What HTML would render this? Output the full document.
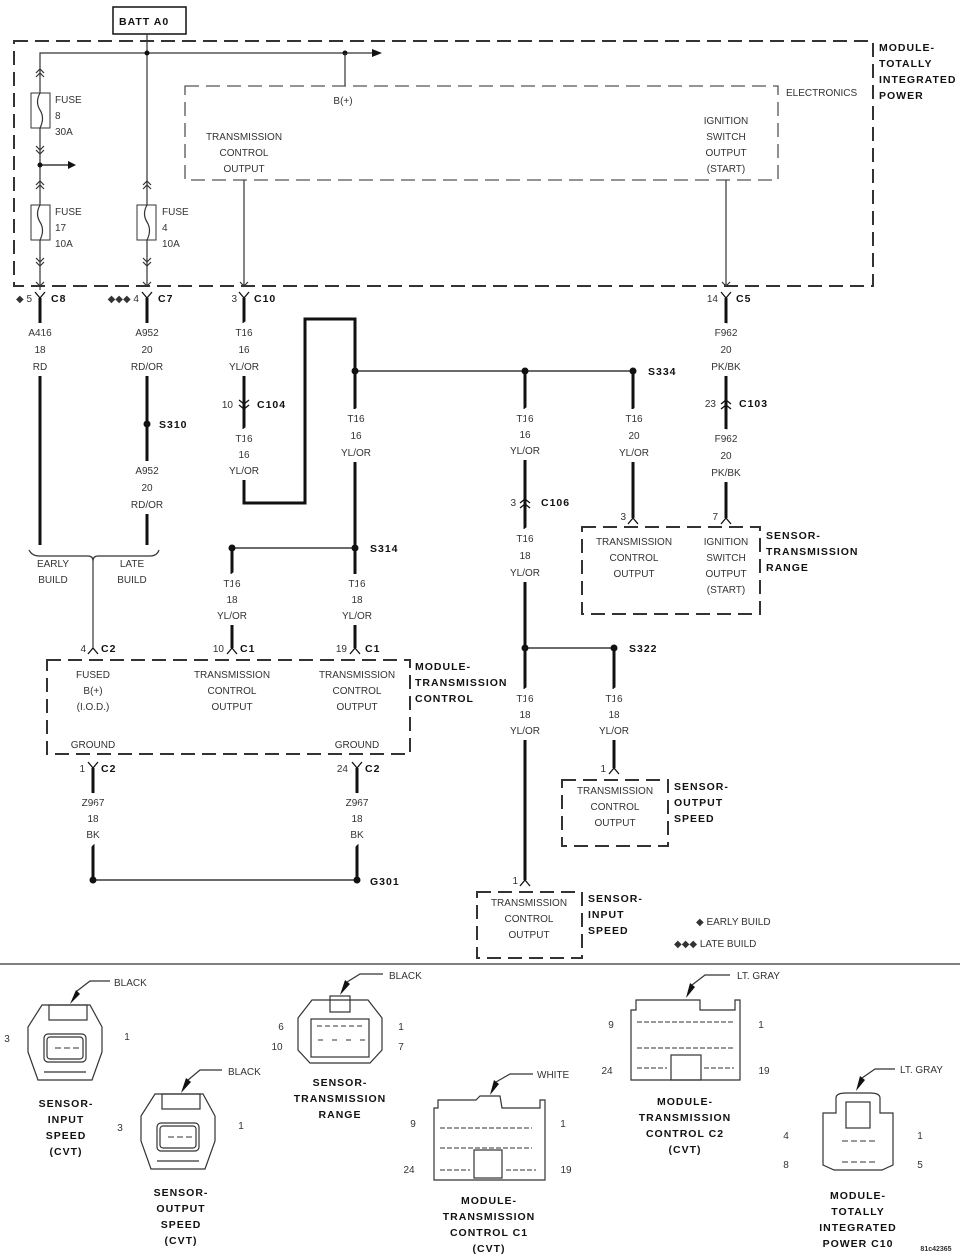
<!DOCTYPE html>
<html><head><meta charset="utf-8"><style>
html,body{margin:0;padding:0;background:#fff}
svg{display:block}
.t{font-family:"Liberation Sans",sans-serif;font-size:10px;fill:#333;text-anchor:middle}
.w{paint-order:stroke;stroke:#fff;stroke-width:12px;stroke-linejoin:miter}
.l{text-anchor:start}
.r{text-anchor:end}
.b{font-family:"Liberation Sans",sans-serif;font-size:10.5px;font-weight:bold;fill:#111;letter-spacing:1px}
.bc{text-anchor:middle}
.d{fill:none;stroke:#333;stroke-width:2;stroke-dasharray:14,7}
.dt{fill:none;stroke:#555;stroke-width:1.3;stroke-dasharray:14,7}
.tk{stroke:#111;stroke-width:3;fill:none}
.tn{stroke:#333;stroke-width:1.2;fill:none}
.c{stroke:#111;stroke-width:1.3;fill:none}
</style></head><body>
<svg width="960" height="1257" viewBox="0 0 960 1257" xmlns="http://www.w3.org/2000/svg">
<rect x="113" y="7" width="73" height="27" fill="#fff" stroke="#111" stroke-width="1.5"/>
<text class="b" x="119" y="25">BATT A0</text>
<rect class="d" x="14" y="41" width="859" height="245"/>
<text class="b" x="879" y="51">MODULE-</text>
<text class="b" x="879" y="67">TOTALLY</text>
<text class="b" x="879" y="83">INTEGRATED</text>
<text class="b" x="879" y="99">POWER</text>
<line class="tn" x1="147" y1="34" x2="147" y2="286"/>
<polyline class="tn" points="40,290 40,53 372,53"/>
<path d="M372,49 L382,53 L372,57Z" fill="#111"/>
<circle cx="147" cy="53" r="2.5" fill="#111"/><circle cx="345" cy="53" r="2.5" fill="#111"/>
<line class="tn" x1="345" y1="53" x2="345" y2="86"/>
<rect x="31" y="93" width="19" height="35" fill="#fff" stroke="#333"/>
<path d="M40,93 q-5,9 0,17 q5,8 0,18" class="tn"/>
<text class="t l" x="55" y="103">FUSE</text><text class="t l" x="55" y="119">8</text><text class="t l" x="55" y="135">30A</text>
<rect x="31" y="205" width="19" height="35" fill="#fff" stroke="#333"/>
<path d="M40,205 q-5,9 0,17 q5,8 0,18" class="tn"/>
<text class="t l" x="55" y="215">FUSE</text><text class="t l" x="55" y="231">17</text><text class="t l" x="55" y="247">10A</text>
<rect x="137" y="205" width="19" height="35" fill="#fff" stroke="#333"/>
<path d="M147,205 q-5,9 0,17 q5,8 0,18" class="tn"/>
<text class="t l" x="162" y="215">FUSE</text><text class="t l" x="162" y="231">4</text><text class="t l" x="162" y="247">10A</text>
<circle cx="40" cy="165" r="2.5" fill="#111"/>
<line class="c" x1="40" y1="165" x2="68" y2="165"/><path d="M68,161 L76,165 L68,169Z" fill="#111"/>
<g class="tn">
<path d="M36,73 l4,-4 l4,4 M36,77 l4,-4 l4,4"/>
<path d="M36,146 l4,4 l4,-4 M36,150 l4,4 l4,-4"/>
<path d="M36,185 l4,-4 l4,4 M36,189 l4,-4 l4,4"/>
<path d="M36,258 l4,4 l4,-4 M36,262 l4,4 l4,-4"/>
<path d="M143,185 l4,-4 l4,4 M143,189 l4,-4 l4,4"/>
<path d="M143,258 l4,4 l4,-4 M143,262 l4,4 l4,-4"/>
<path d="M36,282 l4,4 l4,-4 M143,282 l4,4 l4,-4 M240,282 l4,4 l4,-4 M722,282 l4,4 l4,-4"/>
</g>
<rect class="dt" x="185" y="86" width="593" height="94"/>
<text class="t l" x="786" y="96">ELECTRONICS</text>
<text class="t" x="343" y="104">B(+)</text>
<text class="t" x="244" y="140">TRANSMISSION</text><text class="t" x="244" y="156">CONTROL</text><text class="t" x="244" y="172">OUTPUT</text>
<text class="t" x="726" y="124">IGNITION</text><text class="t" x="726" y="140">SWITCH</text><text class="t" x="726" y="156">OUTPUT</text><text class="t" x="726" y="172">(START)</text>
<line class="tn" x1="244" y1="180" x2="244" y2="286"/>
<line class="tn" x1="726" y1="180" x2="726" y2="286"/>

<g class="tk">
<line x1="40" y1="298" x2="40" y2="545"/>
<line x1="147" y1="298" x2="147" y2="545"/>
<polyline points="244,298 244,503 305,503 305,319 355,319 355,648"/>
<line x1="232" y1="548" x2="232" y2="648"/>
<line x1="525" y1="371" x2="525" y2="880"/>
<line x1="633" y1="371" x2="633" y2="518"/>
<line x1="726" y1="298" x2="726" y2="518"/>
<line x1="614" y1="648" x2="614" y2="768"/>
<line x1="93" y1="768" x2="93" y2="880"/>
<line x1="357" y1="768" x2="357" y2="880"/>
</g>
<line class="c" x1="355" y1="371" x2="633" y2="371" stroke-width="1.6"/>
<line class="c" x1="232" y1="548" x2="355" y2="548" stroke-width="1.6"/>
<line class="c" x1="525" y1="648" x2="614" y2="648" stroke-width="1.6"/>
<line class="c" x1="93" y1="880" x2="357" y2="880" stroke-width="1.6"/>
<g fill="#111">
<circle cx="355" cy="371" r="3.5"/><circle cx="525" cy="371" r="3.5"/><circle cx="633" cy="371" r="3.5"/>
<circle cx="147" cy="424" r="3.5"/>
<circle cx="232" cy="548" r="3.5"/><circle cx="355" cy="548" r="3.5"/>
<circle cx="525" cy="648" r="3.5"/><circle cx="614" cy="648" r="3.5"/>
<circle cx="93" cy="880" r="3.5"/><circle cx="357" cy="880" r="3.5"/>
</g>
<g class="c" stroke-width="1.6">
<path d="M35,292 l5,6 l5,-6 M142,292 l5,6 l5,-6 M239,292 l5,6 l5,-6 M721,292 l5,6 l5,-6"/>
<path d="M239,400 l5,4 l5,-4 M239,405 l5,4 l5,-4"/>
<path d="M721,404 l5,-4 l5,4 M721,409 l5,-4 l5,4"/>
<path d="M520,503 l5,-4 l5,4 M520,508 l5,-4 l5,4"/>
<path d="M628,524 l5,-6 l5,6 M721,524 l5,-6 l5,6"/>
<path d="M88,654 l5,-6 l5,6 M227,654 l5,-6 l5,6 M350,654 l5,-6 l5,6"/>
<path d="M88,762 l5,6 l5,-6 M352,762 l5,6 l5,-6"/>
<path d="M609,774 l5,-6 l5,6 M520,886 l5,-6 l5,6"/>
</g>
<text class="t r" x="32" y="302">◆ 5</text><text class="b" x="51" y="302">C8</text>
<text class="t r" x="139" y="302">◆◆◆ 4</text><text class="b" x="158" y="302">C7</text>
<text class="t r" x="237" y="302">3</text><text class="b" x="254" y="302">C10</text>
<text class="t r" x="718" y="302">14</text><text class="b" x="736" y="302">C5</text>
<text class="t r" x="233" y="408">10</text><text class="b" x="257" y="408">C104</text>
<text class="t r" x="716" y="407">23</text><text class="b" x="739" y="407">C103</text>
<text class="t r" x="516" y="506">3</text><text class="b" x="541" y="506">C106</text>
<text class="t r" x="626" y="520">3</text><text class="t r" x="718" y="520">7</text>
<text class="t r" x="86" y="652">4</text><text class="b" x="101" y="652">C2</text>
<text class="t r" x="224" y="652">10</text><text class="b" x="240" y="652">C1</text>
<text class="t r" x="347" y="652">19</text><text class="b" x="365" y="652">C1</text>
<text class="t r" x="85" y="772">1</text><text class="b" x="101" y="772">C2</text>
<text class="t r" x="348" y="772">24</text><text class="b" x="365" y="772">C2</text>
<text class="t r" x="606" y="772">1</text><text class="t r" x="518" y="884">1</text>
<text class="b" x="159" y="428">S310</text>
<text class="b" x="648" y="375">S334</text>
<text class="b" x="370" y="552">S314</text>
<text class="b" x="629" y="652">S322</text>
<text class="b" x="370" y="885">G301</text>

<g class="t w">
<text x="40" y="336">A416</text><text x="40" y="353">18</text><text x="40" y="370">RD</text>
<text x="147" y="336">A952</text><text x="147" y="353">20</text><text x="147" y="370">RD/OR</text>
<text x="147" y="474">A952</text><text x="147" y="491">20</text><text x="147" y="508">RD/OR</text>
<text x="244" y="336">T16</text><text x="244" y="353">16</text><text x="244" y="370">YL/OR</text>
<text x="244" y="442">T16</text><text x="244" y="458">16</text><text x="244" y="474">YL/OR</text>
<text x="356" y="422">T16</text><text x="356" y="439">16</text><text x="356" y="456">YL/OR</text>
<text x="525" y="422">T16</text><text x="525" y="438">16</text><text x="525" y="454">YL/OR</text>
<text x="634" y="422">T16</text><text x="634" y="439">20</text><text x="634" y="456">YL/OR</text>
<text x="726" y="336">F962</text><text x="726" y="353">20</text><text x="726" y="370">PK/BK</text>
<text x="726" y="442">F962</text><text x="726" y="459">20</text><text x="726" y="476">PK/BK</text>
<text x="525" y="542">T16</text><text x="525" y="559">18</text><text x="525" y="576">YL/OR</text>
<text x="232" y="587">T16</text><text x="232" y="603">18</text><text x="232" y="619">YL/OR</text>
<text x="357" y="587">T16</text><text x="357" y="603">18</text><text x="357" y="619">YL/OR</text>
<text x="525" y="702">T16</text><text x="525" y="718">18</text><text x="525" y="734">YL/OR</text>
<text x="614" y="702">T16</text><text x="614" y="718">18</text><text x="614" y="734">YL/OR</text>
<text x="93" y="806">Z967</text><text x="93" y="822">18</text><text x="93" y="838">BK</text>
<text x="357" y="806">Z967</text><text x="357" y="822">18</text><text x="357" y="838">BK</text>
</g>
<path class="tn" d="M29,550 q3,6 10,6 L88,556 q5,0 5,5 q0,-5 5,-5 L150,556 q7,0 9,-6"/>
<line class="tn" x1="93" y1="561" x2="93" y2="648"/>
<text class="t" x="53" y="567">EARLY</text><text class="t" x="53" y="583">BUILD</text>
<text class="t" x="132" y="567">LATE</text><text class="t" x="132" y="583">BUILD</text>

<rect class="d" x="582" y="527" width="178" height="87"/>
<text class="t" x="634" y="545">TRANSMISSION</text><text class="t" x="634" y="561">CONTROL</text><text class="t" x="634" y="577">OUTPUT</text>
<text class="t" x="726" y="545">IGNITION</text><text class="t" x="726" y="561">SWITCH</text><text class="t" x="726" y="577">OUTPUT</text><text class="t" x="726" y="593">(START)</text>
<text class="b" x="766" y="539">SENSOR-</text><text class="b" x="766" y="555">TRANSMISSION</text><text class="b" x="766" y="571">RANGE</text>

<rect class="d" x="47" y="660" width="363" height="94"/>
<text class="t" x="93" y="678">FUSED</text><text class="t" x="93" y="694">B(+)</text><text class="t" x="93" y="710">(I.O.D.)</text>
<text class="t" x="232" y="678">TRANSMISSION</text><text class="t" x="232" y="694">CONTROL</text><text class="t" x="232" y="710">OUTPUT</text>
<text class="t" x="357" y="678">TRANSMISSION</text><text class="t" x="357" y="694">CONTROL</text><text class="t" x="357" y="710">OUTPUT</text>
<text class="t" x="93" y="748">GROUND</text><text class="t" x="357" y="748">GROUND</text>
<text class="b" x="415" y="670">MODULE-</text><text class="b" x="415" y="686">TRANSMISSION</text><text class="b" x="415" y="702">CONTROL</text>

<rect class="d" x="562" y="780" width="106" height="66"/>
<text class="t" x="615" y="794">TRANSMISSION</text><text class="t" x="615" y="810">CONTROL</text><text class="t" x="615" y="826">OUTPUT</text>
<text class="b" x="674" y="790">SENSOR-</text><text class="b" x="674" y="806">OUTPUT</text><text class="b" x="674" y="822">SPEED</text>
<rect class="d" x="477" y="892" width="105" height="66"/>
<text class="t" x="529" y="906">TRANSMISSION</text><text class="t" x="529" y="922">CONTROL</text><text class="t" x="529" y="938">OUTPUT</text>
<text class="b" x="588" y="902">SENSOR-</text><text class="b" x="588" y="918">INPUT</text><text class="b" x="588" y="934">SPEED</text>
<text class="t l" x="696" y="925">◆  EARLY BUILD</text>
<text class="t l" x="674" y="947">◆◆◆  LATE BUILD</text>

<line x1="0" y1="964" x2="960" y2="964" stroke="#555" stroke-width="1.5"/>

<g class="tn" stroke="#333">
<path d="M42,1005 L90,1005 L102,1027 L102,1052 L92,1080 L38,1080 L28,1052 L28,1027Z"/>
<rect x="49" y="1005" width="38" height="15"/>
<rect x="44" y="1034" width="42" height="28" rx="4"/><rect x="47" y="1037" width="36" height="22" rx="3"/>
<path d="M44,1072 L86,1072"/>
<path d="M155,1094 L203,1094 L215,1116 L215,1141 L205,1169 L151,1169 L141,1141 L141,1116Z"/>
<rect x="162" y="1094" width="38" height="15"/>
<rect x="157" y="1123" width="42" height="28" rx="4"/><rect x="160" y="1126" width="36" height="22" rx="3"/>
<path d="M157,1161 L199,1161"/>
<path d="M312,1000 L368,1000 L382,1018 L382,1050 L370,1063 L310,1063 L298,1050 L298,1018Z"/>
<rect x="311" y="1019" width="58" height="38"/>
<rect x="330" y="996" width="20" height="16"/>
<path d="M434,1108 L438,1108 L438,1100 L476,1100 L480,1096 L500,1096 L502,1108 L540,1108 L540,1100 L545,1100 L545,1180 L434,1180Z"/>
<rect x="474" y="1150" width="28" height="28"/>
<path d="M631,1010 L636,1010 L636,1000 L671,1000 L671,1000 L700,1000 L700,1010 L735,1010 L735,1000 L740,1000 L740,1080 L631,1080Z"/>
<rect x="671" y="1055" width="30" height="25"/>
<path d="M823,1113 L823,1165 L834,1170 L882,1170 L893,1165 L893,1113 L880,1113 L880,1098 Q880,1093 870,1093 L846,1093 Q836,1093 836,1098 L836,1113Z"/>
<rect x="846" y="1102" width="24" height="26"/>
</g>
<g fill="none" stroke="#333" stroke-width="1">
<path d="M55,1048 h6 M64,1048 h6 M73,1048 h6 M168,1137 h6 M177,1137 h6 M186,1137 h6"/>
<path d="M317,1026 h5 m3,0 h5 m3,0 h5 m3,0 h5 m3,0 h5 m3,0 h5 M318,1040 h5 m9,0 h5 m9,0 h5 m9,0 h5"/>
<path d="M440,1128 h92 M440,1148 h92 M440,1170 h30 M506,1170 h30" stroke-dasharray="5,2"/>
<path d="M637,1022 h98 M637,1048 h98 M637,1068 h30 M704,1068 h30" stroke-dasharray="5,2"/>
<path d="M842,1141 h36 M842,1162 h36" stroke-dasharray="6,3"/>
</g>
<g fill="#111">
<path d="M70,1004 L76,990 L80,994Z"/><path d="M181,1093 L186,1078 L191,1082Z"/>
<path d="M340,995 L345,980 L350,984Z"/><path d="M490,1095 L494,1080 L499,1084Z"/>
<path d="M686,998 L690,983 L695,987Z"/><path d="M856,1091 L860,1076 L865,1080Z"/>
</g>
<g class="tn" stroke="#555">
<path d="M77,991 L90,981 L110,981"/><path d="M188,1080 L200,1070 L222,1070"/>
<path d="M347,982 L360,974 L383,974"/><path d="M496,1082 L510,1074 L533,1074"/>
<path d="M692,985 L705,975 L730,975"/><path d="M862,1078 L875,1069 L895,1069"/>
</g>
<text class="t l" x="114" y="986">BLACK</text><text class="t l" x="228" y="1075">BLACK</text>
<text class="t l" x="389" y="979">BLACK</text><text class="t l" x="537" y="1078">WHITE</text>
<text class="t l" x="737" y="979">LT. GRAY</text><text class="t l" x="900" y="1073">LT. GRAY</text>
<text class="t" x="7" y="1042">3</text><text class="t" x="127" y="1040">1</text>
<text class="t" x="120" y="1131">3</text><text class="t" x="241" y="1129">1</text>
<text class="t" x="281" y="1030">6</text><text class="t" x="277" y="1050">10</text><text class="t" x="401" y="1030">1</text><text class="t" x="401" y="1050">7</text>
<text class="t" x="413" y="1127">9</text><text class="t" x="409" y="1173">24</text><text class="t" x="563" y="1127">1</text><text class="t" x="566" y="1173">19</text>
<text class="t" x="611" y="1028">9</text><text class="t" x="607" y="1074">24</text><text class="t" x="761" y="1028">1</text><text class="t" x="764" y="1074">19</text>
<text class="t" x="786" y="1139">4</text><text class="t" x="786" y="1168">8</text><text class="t" x="920" y="1139">1</text><text class="t" x="920" y="1168">5</text>
<g class="b bc">
<text x="66" y="1107">SENSOR-</text><text x="66" y="1123">INPUT</text><text x="66" y="1139">SPEED</text><text x="66" y="1155">(CVT)</text>
<text x="181" y="1196">SENSOR-</text><text x="181" y="1212">OUTPUT</text><text x="181" y="1228">SPEED</text><text x="181" y="1244">(CVT)</text>
<text x="340" y="1086">SENSOR-</text><text x="340" y="1102">TRANSMISSION</text><text x="340" y="1118">RANGE</text>
<text x="489" y="1204">MODULE-</text><text x="489" y="1220">TRANSMISSION</text><text x="489" y="1236">CONTROL C1</text><text x="489" y="1252">(CVT)</text>
<text x="685" y="1105">MODULE-</text><text x="685" y="1121">TRANSMISSION</text><text x="685" y="1137">CONTROL C2</text><text x="685" y="1153">(CVT)</text>
<text x="858" y="1199">MODULE-</text><text x="858" y="1215">TOTALLY</text><text x="858" y="1231">INTEGRATED</text><text x="858" y="1247">POWER C10</text>
</g>
<text class="t" x="936" y="1251" style="font-size:7px;font-weight:bold">81c42365</text>
</svg>
</body></html>
